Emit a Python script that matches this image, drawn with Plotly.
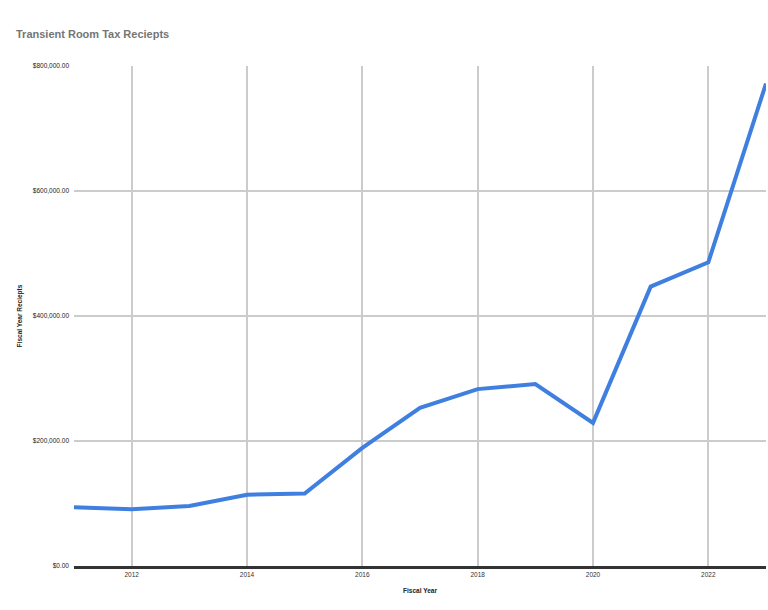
"""Transient room tax receipts by fiscal year."""

import plotly.graph_objects as go

years = [2011, 2012, 2013, 2014, 2015, 2016, 2017, 2018, 2019, 2020, 2021, 2022, 2023]
receipts = [
    94000, 91000, 96000, 114000, 116000, 189000, 253000,
    283000, 291000, 229000, 447000, 486000, 772000,
]
y_ticks = [0, 200000, 400000, 600000, 800000]
y_tick_labels = ["$0.00", "$200,000.00", "$400,000.00", "$600,000.00", "$800,000.00"]
x_ticks = [2012, 2014, 2016, 2018, 2020, 2022]

FONT = "Liberation Sans, Arial, sans-serif"

fig = go.Figure()
fig.add_trace(
    go.Scatter(
        x=years,
        y=receipts,
        mode="lines",
        line={"color": "#3f7fe0", "width": 4},
        hoverinfo="x+y",
    )
)

fig.update_layout(
    width=768,
    height=610,
    margin={"l": 74, "r": 2, "t": 66, "b": 44},
    paper_bgcolor="white",
    plot_bgcolor="white",
    showlegend=False,
    font={"family": FONT, "color": "#222222", "size": 7},
    title={
        "text": "<b>Transient Room Tax Reciepts</b>",
        "x": 16 / 768,
        "xanchor": "left",
        "y": 1 - 34 / 610,
        "yanchor": "middle",
        "font": {"size": 11, "color": "#757575", "family": FONT},
    },
)

fig.update_xaxes(
    range=[2011, 2023],
    tickvals=x_ticks,
    ticktext=[str(v) for v in x_ticks],
    showgrid=True,
    gridcolor="#cccccc",
    gridwidth=2,
    showline=True,
    linecolor="#333333",
    linewidth=3,
    zeroline=False,
    ticks="",
    tickfont={"size": 6.5, "color": "#333333"},
    title={"text": "<b>Fiscal Year</b>", "font": {"size": 6.5, "color": "#222222"}, "standoff": 12},
)
fig.update_yaxes(
    range=[0, 800000],
    tickvals=y_ticks,
    ticktext=y_tick_labels,
    showgrid=True,
    gridcolor="#cccccc",
    gridwidth=2,
    zeroline=False,
    showline=False,
    ticks="",
    ticklabelstandoff=4,
    tickfont={"size": 6.5, "color": "#222222"},
    title={"text": "<b>Fiscal Year Reciepts</b>", "font": {"size": 6.5, "color": "#222222"}, "standoff": 9},
)

# the page body has an 8px default margin; drop it so the figure sits at 0,0
fig.write_html(
    "out.html",
    config={"displayModeBar": False},
    post_script="document.body.style.margin='0';",
)
